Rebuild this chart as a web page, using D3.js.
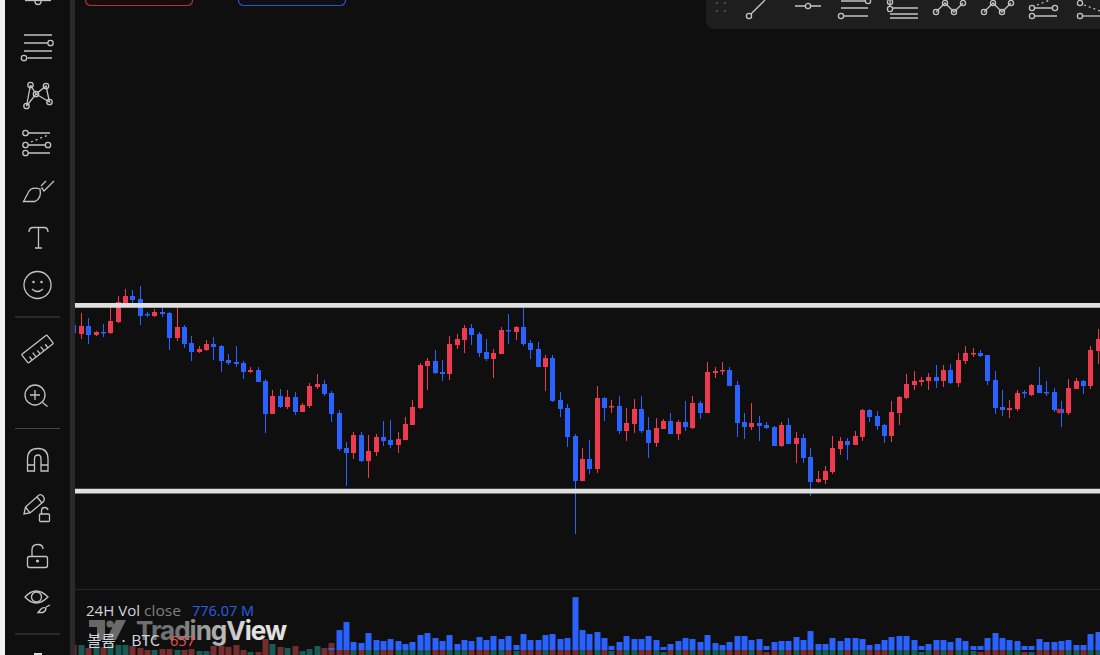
<!DOCTYPE html>
<html>
<head>
<meta charset="utf-8">
<script src="https://cdn.jsdelivr.net/npm/d3@7"></script>
<style>
  html, body { margin: 0; padding: 0; background: #0f0f0f; overflow: hidden; }
  svg { display: block; }
  text { font-family: "Open Sans", "Liberation Sans", sans-serif; }
  .icon { fill: none; stroke: #c4c4c4; stroke-width: 1.3; }
</style>
</head>
<body>
<svg id="chart" width="1100" height="655"></svg>
<script>
// candles (price axis is not visible, so units are chart levels)
const opens = [330,321,329,320,323,322,333,352,359,356,341,339,343,342,317,328,312,303,305,311,309,295,293,292,283,285,274,241,259,248,258,243,249,268,271,
  262,242,207,202,220,194,203,218,215,210,215,230,247,289,294,283,281,310,315,327,321,303,296,301,325,323,328,312,306,288,297,255,247,219,174,
  196,186,257,248,249,224,231,246,225,212,226,234,221,233,227,252,242,282,284,285,270,233,228,232,230,228,209,230,211,217,198,173,175,183,206,
  214,210,218,245,239,230,219,242,257,270,273,274,278,274,285,272,294,301,302,300,275,248,245,246,263,260,270,263,263,246,242,266,274,269,304];
const highs = [332,342,337,324,331,349,359,366,365,369,343,346,347,343,350,330,319,309,315,318,310,301,309,294,288,288,276,265,266,265,263,252,272,281,275,
  264,245,213,223,223,220,221,234,235,223,238,255,292,297,305,295,319,321,330,331,323,316,306,328,341,329,347,315,313,300,300,263,251,221,207,
  215,269,258,255,259,247,256,259,238,237,236,242,235,254,259,254,293,288,293,288,274,242,252,239,233,229,233,237,223,221,207,184,189,219,218,
  217,224,246,246,244,231,254,259,281,284,278,282,290,290,291,302,309,307,305,300,284,265,255,265,265,271,288,274,267,254,276,277,275,309,326];
const lows = [320,316,311,319,318,321,332,352,352,330,338,338,338,305,314,307,294,302,304,295,283,290,288,276,282,273,222,241,247,246,240,243,247,266,259,
  233,204,169,196,193,177,199,209,207,202,215,230,246,265,281,274,275,306,302,310,298,294,277,301,311,315,309,296,288,264,253,238,208,121,174,
  181,182,234,242,221,214,222,222,197,208,226,221,215,224,226,236,242,277,280,269,218,216,225,214,226,209,208,211,192,192,159,172,171,181,200,
  195,210,214,233,225,212,213,230,256,265,269,265,267,268,271,268,291,298,298,270,241,239,237,244,257,259,262,259,243,228,240,266,261,266,291];
const closes = [322,329,320,323,322,334,353,359,355,339,340,343,341,317,328,311,303,306,311,308,294,292,291,283,285,273,241,259,248,258,243,250,269,271,261,
  241,206,202,220,194,204,218,214,210,216,231,248,290,294,282,281,311,316,327,320,302,296,302,325,324,328,311,305,288,297,254,246,218,174,196,
  186,257,247,249,224,232,246,224,212,227,234,221,233,228,252,242,283,284,285,269,232,228,232,229,227,209,230,211,217,197,173,176,184,207,214,
  210,219,245,238,229,219,243,258,271,274,275,278,274,285,272,295,302,302,299,274,247,245,247,262,262,270,262,262,245,242,267,274,269,305,316];

// 24H Vol close in millions; the indicator only starts at candle 35
const vol24h = [null,null,null,null,null,null,null,null,null,null,null,null,null,null,null,null,null,null,null,null,null,null,null,null,null,null,null,null,null,null,null,null,null,null,null,
  86,860,1204,344,301,731,430,387,473,387,258,344,645,731,516,387,645,258,430,387,559,430,602,473,602,215,688,430,430,645,688,473,516,2279,860,
  688,774,516,172,344,602,473,473,602,430,129,258,387,516,473,344,645,301,215,344,602,602,430,473,172,344,387,387,559,430,817,258,258,516,387,
  516,516,473,215,258,430,559,602,602,430,172,258,430,430,344,516,387,172,172,516,731,516,430,387,172,172,473,344,344,387,430,215,215,688,776];

// 볼륨 in BTC
const volBtc = [650,650,455,650,520,650,650,650,585,455,325,325,390,390,325,325,390,260,260,585,585,520,650,325,195,195,1040,715,520,455,585,260,390,585,455,
  780,390,390,325,325,390,325,325,325,325,325,325,390,390,325,325,325,325,325,325,325,325,325,325,325,260,325,325,325,325,325,325,325,390,325,
  325,325,325,260,325,325,325,325,325,325,195,325,325,325,325,325,325,325,325,325,325,325,325,325,195,325,325,325,325,325,325,325,325,325,325,
  325,325,325,325,325,325,325,325,325,325,195,325,325,325,325,325,325,260,195,325,325,325,325,325,195,195,325,325,325,325,325,325,325,325,657];

// the two thick horizontal lines drawn on the chart
const levels = [349.6, 163.8];

const upColor = "#ee3a4e", downColor = "#2962ff";

const svg = d3.select("#chart");
const defs = svg.append("defs");

svg.append("rect").attr("width", 1100).attr("height", 655).attr("fill", "#0f0f0f");

defs.append("clipPath").attr("id", "pane")
  .append("rect").attr("x", 75).attr("y", 0).attr("width", 1025).attr("height", 589);
defs.append("clipPath").attr("id", "volpane")
  .append("rect").attr("x", 75).attr("y", 590).attr("width", 1025).attr("height", 65);

// scales
const idx = d3.range(opens.length);
const x = d3.scaleLinear().domain([1, 139]).range([81.3, 1098.3]);
const y = d3.scaleLinear().domain([0, 655]).range([655, 0]);
const yVol24 = d3.scaleLinear().domain([0, 776]).range([650, 632]);
const yBtc = d3.scaleLinear().domain([0, 650]).range([655, 645]);
const bodyW = 5, volW = 6;
const px = i => Math.floor(x(i)) + 0.5;   // keep wicks on a whole pixel

// ---- candles
const candles = svg.append("g").attr("clip-path", "url(#pane)");
const isUp = i => closes[i] >= opens[i];

candles.selectAll("line.wick").data(idx).join("line")
  .attr("class", "wick")
  .attr("x1", px).attr("x2", px)
  .attr("y1", i => y(highs[i])).attr("y2", i => y(lows[i]))
  .attr("stroke", i => isUp(i) ? upColor : downColor)
  .attr("stroke-width", 1);

candles.selectAll("rect.body").data(idx).join("rect")
  .attr("class", "body")
  .attr("x", i => px(i) - bodyW / 2)
  .attr("width", bodyW)
  .attr("y", i => y(Math.max(opens[i], closes[i])))
  .attr("height", i => Math.max(1.5, Math.abs(y(opens[i]) - y(closes[i]))))
  .attr("fill", i => isUp(i) ? upColor : downColor);

// cursor dot sitting on candle 134
candles.append("circle").attr("cx", 1059).attr("cy", 411).attr("r", 2.5).attr("fill", "#c9232f");

// thick lines over the candles
candles.selectAll("line.level").data(levels).join("line")
  .attr("class", "level")
  .attr("x1", 75).attr("x2", 1100)
  .attr("y1", d => y(d)).attr("y2", d => y(d))
  .attr("stroke", "#dfdfdf").attr("stroke-width", 4.8);

// ---- volume pane
svg.append("line").attr("x1", 75).attr("x2", 1100).attr("y1", 589.5).attr("y2", 589.5).attr("stroke", "#2a2a2a");

const volG = svg.append("g").attr("clip-path", "url(#volpane)");
volG.selectAll("rect.btc").data(idx).join("rect")
  .attr("class", "btc")
  .attr("x", i => px(i) - volW / 2).attr("width", volW)
  .attr("y", i => yBtc(volBtc[i]))
  .attr("height", i => yBtc(0) - yBtc(volBtc[i]))
  .attr("fill", i => isUp(i) ? "#26a69a" : "#ef5350")
  .attr("fill-opacity", i => isUp(i) ? 0.5 : 0.45);

volG.selectAll("rect.v24").data(idx.filter(i => vol24h[i] !== null)).join("rect")
  .attr("class", "v24")
  .attr("x", i => px(i) - volW / 2).attr("width", volW)
  .attr("y", i => yVol24(vol24h[i]))
  .attr("height", i => yVol24(0) - yVol24(vol24h[i]))
  .attr("fill", downColor);

// watermark goes under the legend text
const wmGrad = defs.append("linearGradient").attr("id", "wm").attr("gradientUnits", "userSpaceOnUse")
  .attr("x1", 90).attr("x2", 250).attr("y1", 0).attr("y2", 0);
wmGrad.append("stop").attr("offset", 0).attr("stop-color", "#ffffff").attr("stop-opacity", 0.36);
wmGrad.append("stop").attr("offset", 0.55).attr("stop-color", "#ffffff").attr("stop-opacity", 0.42);
wmGrad.append("stop").attr("offset", 1).attr("stop-color", "#ffffff").attr("stop-opacity", 0.88);

svg.append("path")
  .attr("d", "M89 620H105V640H97V627H89Z M113.6 624A3.6 3.6 0 1 1 106.4 624A3.6 3.6 0 1 1 113.6 624Z M116 620H126L116 640H106Z")
  .attr("fill", "url(#wm)");
svg.append("text").attr("x", 136).attr("y", 640).attr("font-size", 26).attr("font-weight", 700)
  .style("font-family", "Inter, Roboto, sans-serif").attr("textLength", 151)
  .attr("fill", "url(#wm)").text("TradingView");

// legend text
const legendText = (tx, ty, len, color, str) => svg.append("text")
  .attr("x", tx).attr("y", ty).attr("font-size", 15)
  .attr("textLength", len).attr("lengthAdjust", "spacingAndGlyphs")
  .attr("fill", color).text(str);

legendText(86, 616, 54, "#d1d4dc", "24H Vol");
legendText(144, 616, 37, "#808080", "close");
legendText(192, 616, 62, "#2a5fe8", "776.07 M");
legendText(87, 646, 73, "#d1d4dc", "볼륨 · BTC").style("font-family", "'Noto Sans CJK KR', sans-serif");
legendText(170, 646, 25, "#ef5350", "657");

// ---- left sidebar
svg.append("rect").attr("width", 5).attr("height", 655).attr("fill", "#f2f2f2");
svg.append("rect").attr("x", 70).attr("width", 5).attr("height", 655).attr("fill", "#2a2a2a");

const icons = svg.append("g").attr("class", "icon");
const pathIcon = d => icons.append("path").attr("d", d);
const ring = (cx, cy, r = 2.7) => icons.append("circle").attr("cx", cx).attr("cy", cy).attr("r", r);

// partial icon at the very top
pathIcon("M25 0.5H51"); ring(38, 1.5, 3);
// parallel lines
pathIcon("M24 35H52 M24 43H47.5 M24 51H52 M27.5 58H52"); ring(50.5, 43); ring(24, 58);
// pattern
pathIcon("M30.5 85L36 94L46 86L49.5 102L36 94L26.5 106L30.5 85"); ring(30.5, 85); ring(46, 86); ring(36, 94); ring(26.5, 106); ring(49.5, 102);
// fib lines
pathIcon("M28 133H50 M28 145H45 M28 153H50"); ring(25.5, 133); ring(25.5, 145); ring(48, 145); ring(25.5, 153);
icons.append("path").attr("d", "M31 142L48 135").attr("stroke-dasharray", "2 3");
// brush
pathIcon("M23.5 201.5H35Q42 198 40 189Q31 186 28 193Z M41.5 187.5L44 191L54 181 M41 186L46 181");
// T
pathIcon("M29 232Q29 227.5 33 227.5H44Q48 227.5 48 232 M38.5 227.5V248 M35 248H42");
// smile
ring(37.5, 285, 13.5); pathIcon("M32 289Q37.5 294 43 289");
icons.append("circle").attr("cx", 33.5).attr("cy", 282).attr("r", 0.6).attr("fill", "#c4c4c4");
icons.append("circle").attr("cx", 41.5).attr("cy", 282).attr("r", 0.6).attr("fill", "#c4c4c4");
// ruler
icons.append("g").attr("transform", "translate(37.5,349) rotate(-38)").call(g => {
  g.append("rect").attr("x", -16).attr("y", -5.5).attr("width", 32).attr("height", 11).attr("rx", 1);
  g.append("path").attr("d", "M-11 5.5V1 M-6 5.5V0 M-1 5.5V1 M4 5.5V0 M9 5.5V1");
});
// magnifier
ring(35, 395, 10); pathIcon("M35 390V400 M30 395H40 M42.5 402.5L47.5 406.5");
// magnet
pathIcon("M27.5 471V459Q27.5 448.5 38 448.5Q48 448.5 48 459V471H41V459Q41 455 38 455Q34.5 455 34.5 459V471Z M27.5 465H34.5 M41 465H48");
// pencil with small lock
pathIcon("M24 514L25.5 507L39 495Q41 494 43 496L44 498Q45 500 43 502L30 513Z M25.5 507L30 513 M37 497L42 503");
icons.append("rect").attr("x", 39.5).attr("y", 514).attr("width", 10).attr("height", 7.5).attr("rx", 1);
pathIcon("M41.5 514V511Q41.5 507.5 44.5 507.5Q47.5 507.5 48 510");
// open lock
icons.append("rect").attr("x", 27.5).attr("y", 556.5).attr("width", 20).attr("height", 11).attr("rx", 2);
pathIcon("M32 556.5V550Q32 544.5 37.5 544.5Q43 544.5 43 549");
icons.append("circle").attr("cx", 37.5).attr("cy", 561).attr("r", 0.9).attr("fill", "#c4c4c4");
// eye
pathIcon("M25 597Q36 585 48 597Q36 609 25 597Z"); ring(36.5, 597, 5);
pathIcon("M38 612.5H43Q46 611 46 608Q43 607 41 609Z M46 607L50 605");

// sidebar separators
icons.selectAll("line.sep").data([317, 428.5, 634]).join("line")
  .attr("class", "sep")
  .attr("x1", 15).attr("x2", 60).attr("y1", d => d).attr("y2", d => d)
  .attr("stroke", "#474747").attr("stroke-width", 1);
svg.append("rect").attr("x", 34).attr("y", 653).attr("width", 8).attr("height", 2).attr("fill", "#dddddd");

// ---- top boxes
svg.append("rect").attr("x", 85.5).attr("y", -20).attr("width", 107).attr("height", 25.5).attr("rx", 5)
  .attr("fill", "#170d0e").attr("stroke", "#b0323f").attr("stroke-width", 1.2);
svg.append("rect").attr("x", 238.5).attr("y", -20).attr("width", 107).attr("height", 25.5).attr("rx", 5)
  .attr("fill", "#0d0f16").attr("stroke", "#2a55c4").attr("stroke-width", 1.2);

// ---- floating toolbar, top right
svg.append("rect").attr("x", 706).attr("y", -12).attr("width", 420).attr("height", 41).attr("rx", 8).attr("fill", "#1e1e1e");
const tb = svg.append("g").attr("class", "icon");
const tbPath = d => tb.append("path").attr("d", d);
const tbRing = (cx, cy) => tb.append("circle").attr("cx", cx).attr("cy", cy).attr("r", 2.6);
[717, 725].forEach(gx => [3, 11].forEach(gy => {
  svg.append("circle").attr("cx", gx).attr("cy", gy).attr("r", 1.1).attr("fill", "#5a5a5a");
}));
tbPath("M751 14L765 0"); tbRing(749, 16);
tbPath("M795 6H805 M811 6H821"); tbRing(808, 6);
tbPath("M841 1H865 M841 8H868 M844 16H868"); tbRing(868, 1); tbRing(841, 16);
tbPath("M890 0V6 M893 8H918 M890 14H918 M890 18H918"); tbRing(890, 2); tbRing(890, 9);
tbPath("M936 12L945 3L954 12L963 3"); tbRing(936, 12); tbRing(945, 3); tbRing(954, 12); tbRing(963, 3);
tbPath("M984 12L993 3L1002 12L1011 3"); tbRing(984, 12); tbRing(993, 3); tbRing(1002, 12); tbRing(1011, 3);
tbPath("M1035 8H1052 M1035 16H1057"); tbRing(1032, 8); tbRing(1055, 8); tbRing(1032, 16);
tb.append("path").attr("d", "M1037 5L1050 0").attr("stroke-dasharray", "2 3");
tbPath("M1083 16H1100"); tbRing(1080, 3); tbRing(1080, 16);
tb.append("path").attr("d", "M1084 5L1100 11").attr("stroke-dasharray", "2 3");
</script>
</body>
</html>
